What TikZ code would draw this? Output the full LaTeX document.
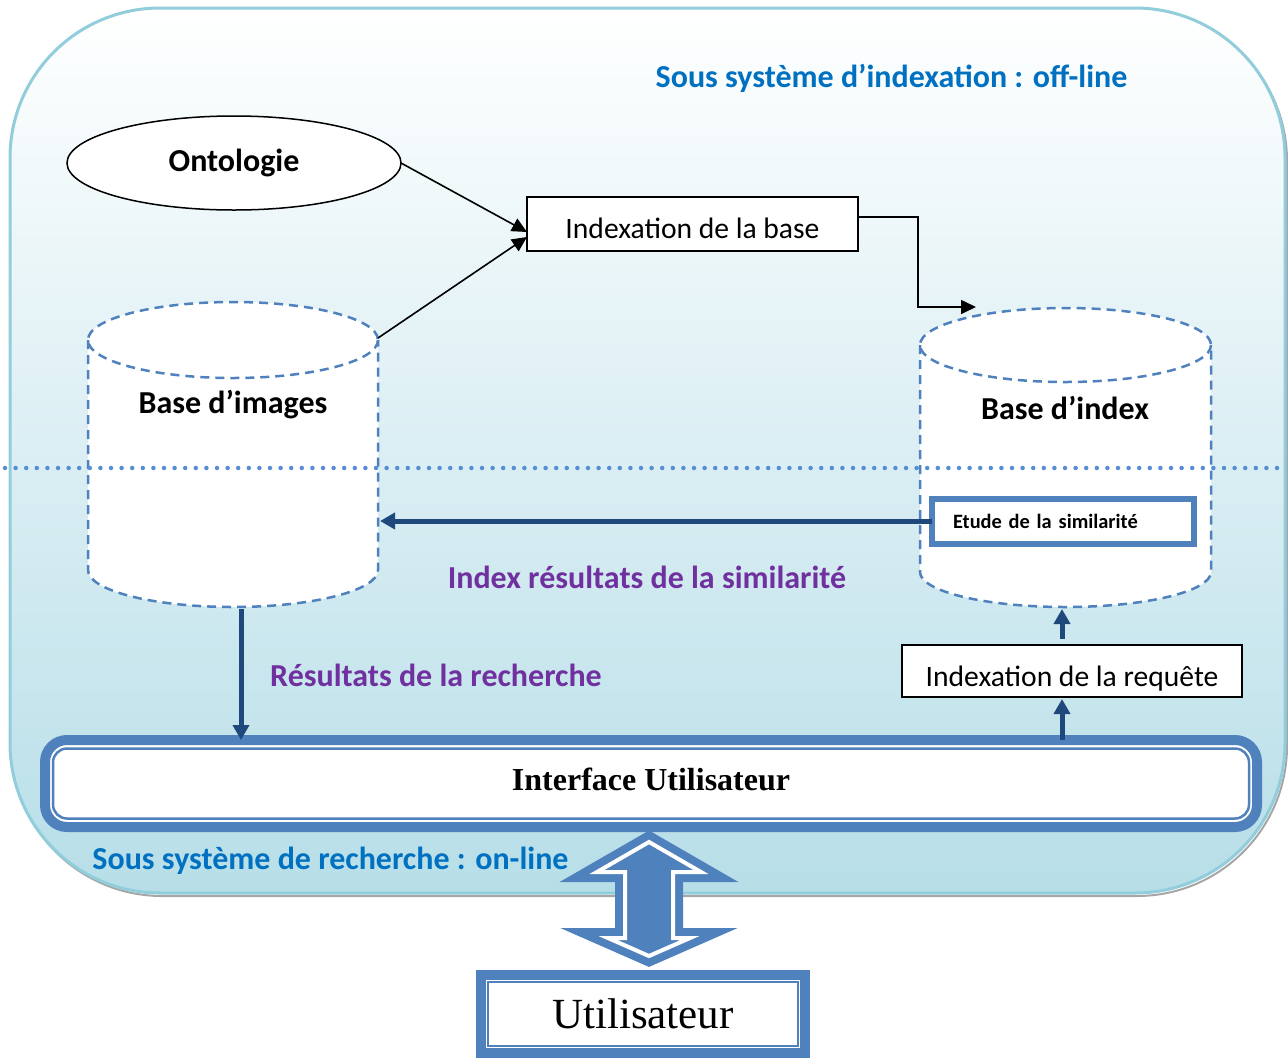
\documentclass[tikz,border=0pt]{standalone}
\usepackage{fontspec}
\setmainfont{Carlito}
\newfontfamily\seriffont{Liberation Serif}
\usetikzlibrary{arrows.meta,shapes.geometric}
\definecolor{panelfill}{HTML}{B7DEE8}
\definecolor{panelrim}{HTML}{92CDDC}
\definecolor{frameblue}{HTML}{4F81BD}
\definecolor{navy}{HTML}{1F497D}
\definecolor{titleblue}{HTML}{0070C0}
\definecolor{labelpurple}{HTML}{7030A0}
\definecolor{dotblue}{HTML}{558ED5}
\begin{document}
\begin{tikzpicture}[x=1pt,y=-1pt,
  every node/.style={inner sep=0pt,outer sep=0pt},
  bigbold/.style={font=\fontsize{32pt}{37pt}\selectfont\bfseries},
  plain/.style={font=\fontsize{29.6pt}{34pt}\selectfont},
  heading/.style={text=titleblue,font=\fontsize{32pt}{37pt}\selectfont\bfseries},
  caption/.style={text=labelpurple,font=\fontsize{32pt}{37pt}\selectfont\bfseries},
  procbox/.style={draw=black,line width=1.5pt,fill=white,plain},
  cylline/.style={draw=frameblue,line width=2.5pt,dash pattern=on 9pt off 6pt},
  blackarrow/.style={draw=black,line width=1.6pt,-{Triangle[length=15pt,width=14pt]}},
  navyarrow/.style={draw=navy,line width=5pt,-{Triangle[length=15pt,width=16pt]}},
  framed/.style={draw=frameblue,line width=10pt,fill=white},
  innerrule/.style={draw=frameblue,line width=2.5pt}
]
\useasboundingbox (0,0) rectangle (1288,1061);

% rounded panel with its soft shadow
\draw[gray!70,line width=2pt,rounded corners=150pt] (12,11) rectangle (1287,896);
\draw[panelrim,line width=3pt,top color=white,bottom color=panelfill,rounded corners=150pt]
  (10,8) rectangle (1285,893);

% image store (dashed cylinder)
\fill[white] (88,340) -- (88,570) arc[start angle=180,end angle=0,x radius=145,y radius=37]
  -- (378,340) arc[start angle=0,end angle=-180,x radius=145,y radius=38] -- cycle;
\draw[cylline] (88,340) -- (88,570) arc[start angle=180,end angle=0,x radius=145,y radius=37] -- (378,340);
\draw[cylline] (233,340) ellipse[x radius=145,y radius=38];
\node[bigbold] (imgdb) at (233,405) {Base d’images};

% index store (dashed cylinder)
\fill[white] (920,345) -- (920,572) arc[start angle=180,end angle=0,x radius=145.5,y radius=35]
  -- (1211,345) arc[start angle=0,end angle=-180,x radius=145.5,y radius=37] -- cycle;
\draw[cylline] (920,345) -- (920,572) arc[start angle=180,end angle=0,x radius=145.5,y radius=35] -- (1211,345);
\draw[cylline] (1065.5,345) ellipse[x radius=145.5,y radius=37];
\node[bigbold] (idxdb) at (1065,408) {Base d’index};

% boundary between the two subsystems
\draw[dotblue,line width=4.5pt,line cap=round,dash pattern=on 0pt off 10.6pt] (5,468) -- (1283,468);

% connection points on the cylinders
\coordinate (imgtop) at (378,338);
\coordinate (imgright) at (380,521);
\coordinate (imgbot) at (241,609);
\coordinate (idxtop) at (976,307);
\coordinate (bend) at (918,307);
\coordinate (upx) at (1062,0);
\coordinate (idxbot) at (1062,609);

% nodes
\node[draw=black,line width=1.5pt,fill=white,ellipse,minimum width=334pt,minimum height=94pt,bigbold]
  (onto) at (234,163) {Ontologie};
\node[procbox,minimum width=331pt,minimum height=54pt,text height=29pt,text depth=0pt]
  (idxbase) at (692.5,224) {Indexation de la base};
\node[draw=frameblue,line width=6pt,fill=white,minimum width=262pt,minimum height=45pt,
  text width=220pt,align=left,font=\fontsize{20.4pt}{24pt}\selectfont\bfseries]
  (sim) at (1063,521) {Etude de la similarité};
\node[procbox,minimum width=340pt,minimum height=52pt,text height=31pt,text depth=0pt]
  (req) at (1072,671) {Indexation de la requête};

\node[heading] (offline) at (891.5,78) {Sous système d’indexation : off-line};
\node[caption] (simres) at (647,577) {Index résultats de la similarité};
\node[caption] (searchres) at (436,675) {Résultats de la recherche};

% user interface bar
\node[framed,rounded corners=22pt,minimum width=1212pt,minimum height=87pt,text height=14pt,text depth=0pt,
  font=\seriffont\fontsize{32pt}{37pt}\selectfont\bfseries] (iface) at (651,783.5) {Interface Utilisateur};
\draw[innerrule,rounded corners=14pt] ([shift={(8pt,-8.5pt)}]iface.north west) rectangle ([shift={(-8pt,8.5pt)}]iface.south east);

\node[heading] (online) at (330.5,861) {Sous système de recherche : on-line};

% user box
\node[framed,minimum width=324pt,minimum height=78pt,font=\seriffont\fontsize{43pt}{49pt}\selectfont]
  (user) at (643,1014) {Utilisateur};
\draw[innerrule] ([shift={(7pt,-7pt)}]user.north west) rectangle ([shift={(-7pt,7pt)}]user.south east);

% connectors of the indexing stage
\draw[blackarrow] (onto.east) -- ([yshift=-8pt]idxbase.west);
\draw[blackarrow] (imgtop) -- ([yshift=-13pt]idxbase.west);
\draw[blackarrow] ([yshift=7pt]idxbase.east) -| (bend) -- (idxtop);

% connectors of the search stage
\draw[navyarrow] (sim.west) -- (imgright);
\draw[navyarrow] (imgbot) -- (imgbot |- iface.north);
\draw[navyarrow] (iface.north -| upx) -- ([yshift=-2pt]req.south -| upx);
\draw[navyarrow] ([yshift=6pt]req.north -| upx) -- (idxbot);

% two-way exchange between user and interface
\path[draw=frameblue,line width=20pt,fill=frameblue,miter limit=10]
  (649,842) -- (701,872) -- (673,872) -- (673,938) -- (690,938) -- (649,956)
  -- (608,938) -- (625,938) -- (625,872) -- (597,872) -- cycle;
\path[draw=white,line width=4pt]
  (649,842) -- (701,872) -- (673,872) -- (673,938) -- (690,938) -- (649,956)
  -- (608,938) -- (625,938) -- (625,872) -- (597,872) -- cycle;
\end{tikzpicture}
\end{document}
